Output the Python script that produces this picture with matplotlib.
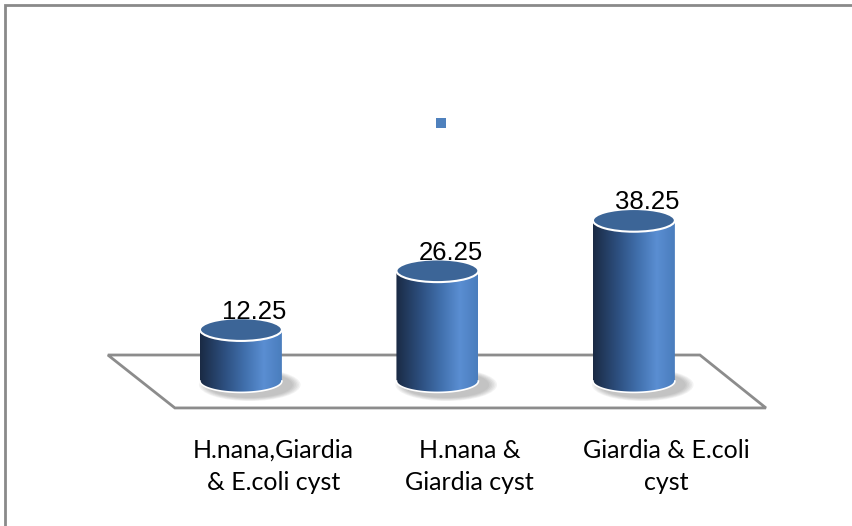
import numpy as np
import matplotlib.pyplot as plt
from matplotlib.patches import Ellipse, Polygon, Rectangle, PathPatch, Patch
from matplotlib.path import Path
from matplotlib.colors import LinearSegmentedColormap

# data #
categories = ['H.nana,Giardia\n& E.coli cyst', 'H.nana &\nGiardia cyst', 'Giardia & E.coli\ncyst']
values = [12.25, 26.25, 38.25]
value_labels = ['12.25', '26.25', '38.25']

# figure in a 3d-ish look, data units: x = category, y = value #
fig = plt.figure(figsize=(8.53, 5.26), dpi=100)
ax = fig.add_axes([0, 0, 1, 1])
ax.set_xlim(-1.226, 3.115)
ax.set_ylim(-34.5, 90.7)
ax.axis('off')

# outer frame (cut off at right/bottom like the original)
fig.add_artist(Rectangle((5 / 853, -0.1), 1.5, 1.0905, transform=fig.transFigure,
                         fill=False, edgecolor='#8a8a8a', lw=2))

# floor
floor = Polygon([(-0.677, 6.2), (2.336, 6.2), (2.672, -6.4), (-0.336, -6.4)],
                closed=True, facecolor='white', edgecolor='#8c8c8c', lw=2, zorder=1)
ax.add_patch(floor)

cmap = LinearSegmentedColormap.from_list('cyl', [
    (0.0, '#1a2a44'), (0.3, '#2d4f7f'), (0.55, '#4170ad'),
    (0.78, '#5a8ed2'), (1.0, '#4a7dbd')])
grad = np.linspace(0, 1, 256).reshape(1, -1)

hw = 0.2085  # half width of cylinder
eh = 5.4     # ellipse height

for i, (v, lab) in enumerate(zip(values, value_labels)):
    x = i
    # shadow
    for k in range(6):
        ax.add_patch(Ellipse((x + 0.045, -0.9), 2 * hw + 0.02 + 0.016 * k, eh + 0.8 + 0.3 * k,
                             facecolor='#6a6a6a', edgecolor='none', alpha=0.08, zorder=2))
    # body
    t = np.linspace(0, -np.pi, 60)
    verts = [(x - hw, 0), (x - hw, v), (x + hw, v), (x + hw, 0)]
    verts += list(zip(x + hw * np.cos(t), eh / 2 * np.sin(t)))
    verts.append((x - hw, 0))
    codes = [Path.MOVETO] + [Path.LINETO] * (len(verts) - 2) + [Path.CLOSEPOLY]
    body = PathPatch(Path(verts, codes), facecolor='none', edgecolor='none', zorder=3)
    ax.add_patch(body)
    im = ax.imshow(grad, extent=[x - hw, x + hw, -eh / 2, v], aspect='auto',
                   cmap=cmap, zorder=3, interpolation='bilinear')
    im.set_clip_path(body)
    ax.plot(x + hw * np.cos(t), eh / 2 * np.sin(t), color='white', lw=1.2, zorder=4)
    # top
    ax.add_patch(Ellipse((x, v), 2 * hw, eh, facecolor='#3c6597', edgecolor='white',
                         lw=1.5, zorder=5))
    ax.text(x + 0.07, v + 4.3, lab, ha='center', va='center', fontsize=18.5,
            family='Liberation Sans', color='black', zorder=6)
    ax.text(x + 0.165, -20.3, categories[i], ha='center', va='center', fontsize=18,
            family='Lato', color='black', linespacing=1.45, zorder=6)

# legend with marker only
ax.legend(handles=[Patch(facecolor='#4f81bd', edgecolor='none')], labels=[''],
          loc='center', bbox_to_anchor=(441 / 853, 1 - 124 / 526), frameon=False,
          handlelength=0.75, handleheight=0.75, handletextpad=0)

plt.savefig('out.png', dpi=100)
